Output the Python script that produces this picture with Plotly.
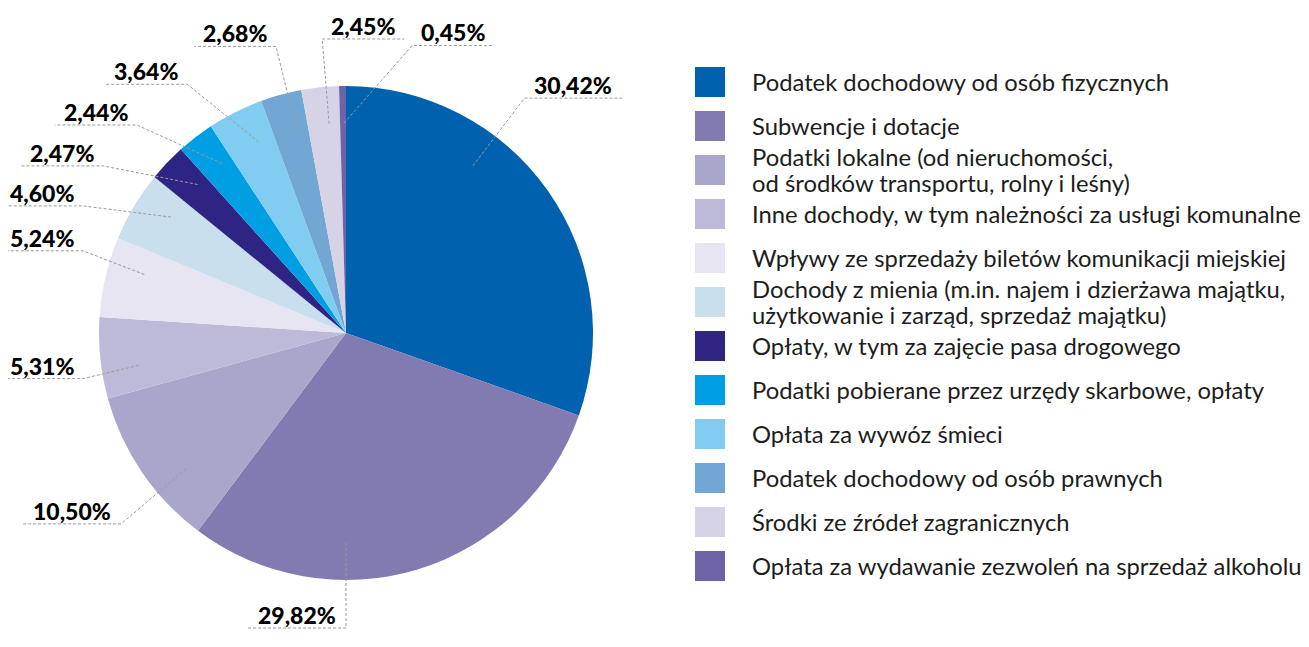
import math

import plotly.graph_objects as go

# Revenue structure (share of total, %)
CATEGORIES = [
    "Podatek dochodowy od osób fizycznych",
    "Subwencje i dotacje",
    "Podatki lokalne (od nieruchomości,<br>od środków transportu, rolny i leśny)",
    "Inne dochody, w tym należności za usługi komunalne",
    "Wpływy ze sprzedaży biletów komunikacji miejskiej",
    "Dochody z mienia (m.in. najem i dzierżawa majątku,<br>użytkowanie i zarząd, sprzedaż majątku)",
    "Opłaty, w tym za zajęcie pasa drogowego",
    "Podatki pobierane przez urzędy skarbowe, opłaty",
    "Opłata za wywóz śmieci",
    "Podatek dochodowy od osób prawnych",
    "Środki ze źródeł zagranicznych",
    "Opłata za wydawanie zezwoleń na sprzedaż alkoholu",
]
SHARES = [30.42, 29.82, 10.50, 5.31, 5.24, 4.60, 2.47, 2.44, 3.64, 2.68, 2.45, 0.45]
COLORS = [
    "#0061AE", "#817BB2", "#A9A6CB", "#BDB9D9", "#E7E5F1", "#CADFED",
    "#2E2483", "#009FE3", "#80CDF1", "#73A7D3", "#D6D3E7", "#6E63A7",
]

# page geometry (the html body keeps an 8px margin, so no scrollbars)
PAGE_W, PAGE_H, OFF = 1309, 647, 8
W, H = PAGE_W - 2 * OFF, PAGE_H - 2 * OFF
CX, CY, R = 346, 333, 247            # pie centre / radius, page pixels
R_IN = 0.85 * R                      # leader line start
R_ELBOW = 295                        # leader line bend
MIN_ELBOW_X = CX - 263
LEAN = 0.16                          # labels lean towards the vertical axis
LINE_COLOR = "#9A9A9A"
TEXT_COLOR = "#1D1D1B"

labels = [f"{v:.2f}".replace(".", ",") + "%" for v in SHARES]
seg_len = [16 * len(t) + 2 for t in labels]

# anchor angle of each slice label, degrees clockwise from 12 o'clock
total = sum(SHARES)
anchors, acc = [], 0.0
for v in SHARES:
    width = 360 * v / total
    mid = 360 * acc / total + width / 2
    target = 180 if 90 <= mid <= 270 else (0 if mid < 90 else 360)
    shift = min(LEAN * width, abs(target - mid))
    anchors.append(mid + shift * (1 if target > mid else -1))
    acc += v


def inner_point(a):
    t = math.radians(a)
    return CX + R_IN * math.sin(t), CY - R_IN * math.cos(t)


def elbow_point(a):
    t = math.radians(a)
    return max(CX + R_ELBOW * math.sin(t), MIN_ELBOW_X), CY - R_ELBOW * math.cos(t)


def side_of(a):
    t = math.radians(a)
    return "right" if math.sin(t) > -0.2 and math.cos(t) > -0.9 else "left"


sides = [side_of(a) for a in anchors]
ang = [a if a >= 90 else a + 360 for a in anchors]


def label_box(i):
    ex, ey = elbow_point(ang[i])
    if sides[i] == "left":
        return ex - seg_len[i], ex, ey - 34, ey
    return ex, ex + seg_len[i], ey - 34, ey


def overlaps(b1, b2, pad=6):
    return not (b1[1] + pad < b2[0] or b2[1] + pad < b1[0]
                or b1[3] + pad < b2[2] or b2[3] + pad < b1[2])


# push crowded labels downwards, away from the top of the pie
for _ in range(800):
    moved = False
    for i in range(len(ang)):
        for j in range(len(ang)):
            if ang[i] < ang[j] and overlaps(label_box(i), label_box(j)):
                if sides[i] == sides[j] == "left":
                    ang[i] -= 0.5
                elif sides[i] == sides[j] == "right":
                    ang[j] += 0.5
                else:
                    ang[i] -= 0.5
                    ang[j] += 0.5
                moved = True
    if not moved:
        break

fig = go.Figure()

fig.add_trace(
    go.Pie(
        labels=[c.replace("<br>", " ") for c in CATEGORIES],
        values=SHARES,
        sort=False,
        direction="clockwise",
        rotation=0,
        marker=dict(colors=COLORS, line=dict(width=0)),
        textinfo="none",
        hoverinfo="label+percent",
        showlegend=False,
        domain=dict(
            x=[(CX - R - OFF) / W, (CX + R - OFF) / W],
            y=[1 - (CY + R - OFF) / H, 1 - (CY - R - OFF) / H],
        ),
    )
)

# legend swatches
legend_y = [82 + 44 * i for i in range(len(CATEGORIES))]
fig.add_trace(
    go.Scatter(
        x=[710] * len(CATEGORIES),
        y=legend_y,
        mode="markers",
        marker=dict(symbol="square", size=30, color=COLORS, line=dict(width=0)),
        hoverinfo="skip",
        showlegend=False,
    )
)

shapes, annotations = [], []
for i, text in enumerate(labels):
    ix, iy = inner_point(anchors[i])
    ex, ey = elbow_point(ang[i])
    x0, x1, _, _ = label_box(i)
    end_x = x0 if sides[i] == "left" else x1
    shapes.append(
        dict(
            type="path",
            path=f"M {ix:.1f},{iy:.1f} L {ex:.1f},{ey:.1f} L {end_x:.1f},{ey:.1f}",
            xref="x", yref="y",
            line=dict(color=LINE_COLOR, width=1, dash="3px,2px"),
            layer="above",
        )
    )
    annotations.append(
        dict(
            x=(x0 + x1) / 2, y=ey + 3, xref="x", yref="y",
            text=text, showarrow=False,
            xanchor="center", yanchor="bottom",
            font=dict(family="Lato", size=23, color="#000000", weight=900),
        )
    )

for name, y in zip(CATEGORIES, legend_y):
    lines = name.split("<br>")
    for k, line in enumerate(lines):
        annotations.append(
            dict(
                x=750, y=y + 26 * (k - (len(lines) - 1) / 2), xref="x", yref="y",
                text=line, showarrow=False,
                xanchor="left", yanchor="middle", align="left",
                font=dict(family="Lato", size=23.8, color=TEXT_COLOR),
            )
        )

fig.update_layout(
    width=W,
    height=H,
    margin=dict(l=0, r=0, t=0, b=0),
    paper_bgcolor="white",
    plot_bgcolor="white",
    xaxis=dict(range=[OFF, OFF + W], visible=False, fixedrange=True),
    yaxis=dict(range=[OFF + H, OFF], visible=False, fixedrange=True),
    shapes=shapes,
    annotations=annotations,
)

fig.write_html("out.html")
